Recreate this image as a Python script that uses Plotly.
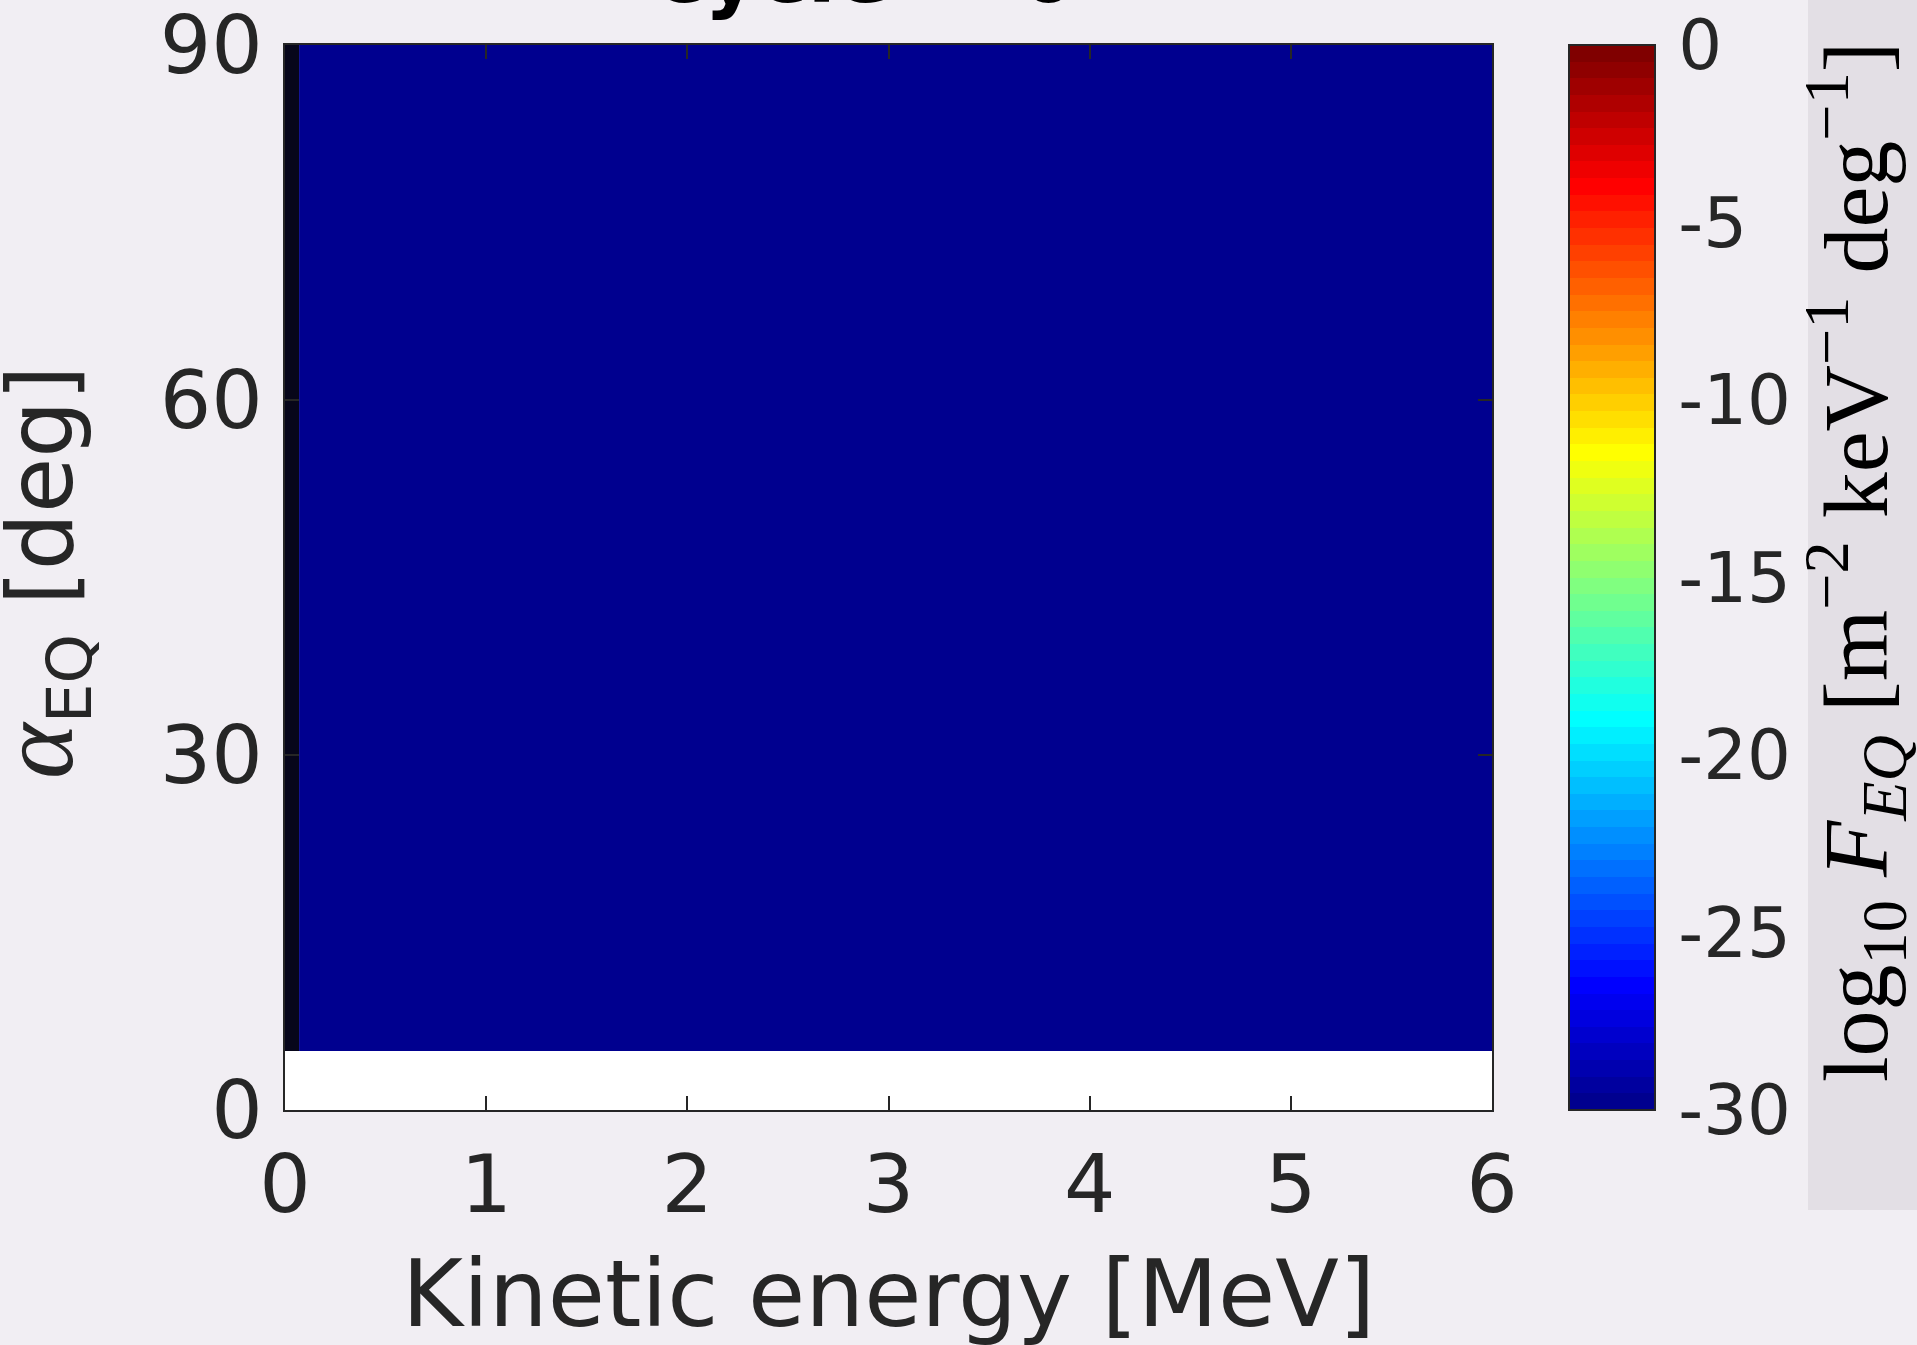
import numpy as np
import plotly.graph_objects as go

# ---- data -------------------------------------------------------------
# energy bin edges [MeV] and equatorial pitch-angle bin edges [deg]
energy_edges = [0.07, 1.0, 2.0, 3.0, 4.0, 5.0, 6.0]
alpha_edges = [5.0, 30.0, 60.0, 90.0]

# log10 of the equatorial flux in each (alpha, energy) cell
log_flux = [
    [-30.0, -30.0, -30.0, -30.0, -30.0, -30.0],
    [-30.0, -30.0, -30.0, -30.0, -30.0, -30.0],
    [-30.0, -30.0, -30.0, -30.0, -30.0, -30.0],
]

# lowest-energy column (E ~ 0), rendered as an unresolved dark strip
edge_energy = [0.0, 0.07]
edge_alpha = [5.0, 90.0]
edge_flux = [[-30.0]]

energy_ticks = [0, 1, 2, 3, 4, 5, 6]
alpha_ticks = [0, 30, 60, 90]
cbar_ticks = [0, -5, -10, -15, -20, -25, -30]
cbar_ticktext = ["0", "-5", "-10", "-15", "-20", "-25", "-30"]

# ---- styling ----------------------------------------------------------
W, H = 1917, 1345
L, R, T, B = 285, 1492, 45, 1110          # plot-area box in pixels
PW, PH = R - L, B - T
BG = "#f1eef3"
INK = "#262626"


def px_x(p):
    return (p - L) / PW


def px_y(p):
    return 1 - (p - T) / PH


def matlab_jet(m=64):
    n = int(np.ceil(m / 4))
    u = np.concatenate([np.arange(1, n + 1) / n, np.ones(n - 1), np.arange(n, 0, -1) / n])
    g = int(np.ceil(n / 2)) - (1 if m % 4 == 1 else 0) + np.arange(1, len(u) + 1)
    r = g + n
    b = g - n
    g = g[g <= m]
    r = r[r <= m]
    b = b[b >= 1]
    J = np.zeros((m, 3))
    J[r - 1, 0] = u[: len(r)]
    J[g - 1, 1] = u[: len(g)]
    J[b - 1, 2] = u[len(u) - len(b):]
    return J


jet = matlab_jet(64)
colorscale = []
for i, (cr, cg, cb) in enumerate(jet):
    c = f"rgb({int(round(cr * 255))},{int(round(cg * 255))},{int(round(cb * 255))})"
    colorscale.append([i / 64, c])
    colorscale.append([(i + 1) / 64, c])

fig = go.Figure()

fig.add_trace(go.Heatmap(
    x=energy_edges, y=alpha_edges, z=log_flux,
    zmin=-30, zmax=0, colorscale=colorscale, zsmooth=False,
    colorbar=dict(
        x=px_x(1569), xanchor="left", xpad=0, ypad=0,
        y=0.5, yanchor="middle", len=1, lenmode="fraction",
        thickness=86, thicknessmode="pixels",
        outlinewidth=2, outlinecolor=INK,
        tickvals=cbar_ticks, ticktext=cbar_ticktext,
        ticks="outside", ticklen=9, tickcolor=BG,
        tickfont=dict(family="DejaVu Sans", size=69, color=INK),
    ),
))

fig.add_trace(go.Heatmap(
    x=edge_energy, y=edge_alpha, z=edge_flux,
    colorscale=[[0, "#07061a"], [1, "#07061a"]], showscale=False, zsmooth=False,
))

axis_common = dict(
    ticks="inside", ticklen=14, tickwidth=2, tickcolor=INK,
    showline=True, linecolor=INK, linewidth=2, mirror="ticks",
    showgrid=False, zeroline=False, ticklabeloverflow="allow",
    tickfont=dict(family="DejaVu Sans", size=81, color=INK),
)

fig.update_xaxes(range=[0, 6], tickvals=energy_ticks, ticklabelstandoff=3, **axis_common)
fig.update_yaxes(range=[0, 90], tickvals=alpha_ticks, ticklabelstandoff=4, **axis_common)

# panel behind the colour-bar label
fig.add_shape(
    type="rect", xref="paper", yref="paper", layer="below",
    x0=px_x(1808), x1=px_x(1930), y0=px_y(1210), y1=px_y(-20),
    fillcolor="#e3dfe5", line=dict(width=0),
)

# axis labels
fig.add_annotation(
    text="Kinetic energy [MeV]", xref="paper", yref="paper",
    x=px_x(888), y=px_y(1350), xanchor="center", yanchor="bottom",
    showarrow=False, font=dict(family="DejaVu Sans", size=93, color=INK),
)
fig.add_annotation(
    text='<span style="font-family:Liberation Serif;font-style:italic;font-size:106px">α</span>'
         '<sub style="font-size:67px">EQ</sub> [deg]',
    textangle=-90, xref="paper", yref="paper",
    x=px_x(-24), y=px_y(572), xanchor="left", yanchor="middle",
    showarrow=False, font=dict(family="DejaVu Sans", size=90, color=INK),
)

# colour-bar label, set vertically beside the tick labels
fig.add_annotation(
    text="log<sub>10</sub> <i>F</i><sub><i>EQ</i></sub> "
         "[m<sup>−2</sup> keV<sup>−1</sup> deg<sup>−1</sup>]",
    textangle=-90, xref="paper", yref="paper",
    x=px_x(1856), y=px_y(562), xanchor="center", yanchor="middle",
    showarrow=False, font=dict(family="Liberation Serif", size=92, color="black"),
)

fig.add_annotation(
    text="<b>cycle = 0</b>", xref="paper", yref="paper",
    x=px_x(866), y=px_y(24), xanchor="center", yanchor="bottom",
    showarrow=False, font=dict(family="DejaVu Sans", size=83, color="black"),
)

fig.update_layout(
    width=W, height=H,
    margin=dict(l=L, r=W - R, t=T, b=H - B, pad=0, autoexpand=False),
    paper_bgcolor=BG, plot_bgcolor="white",
    showlegend=False,
)

fig.write_html("out.html")
